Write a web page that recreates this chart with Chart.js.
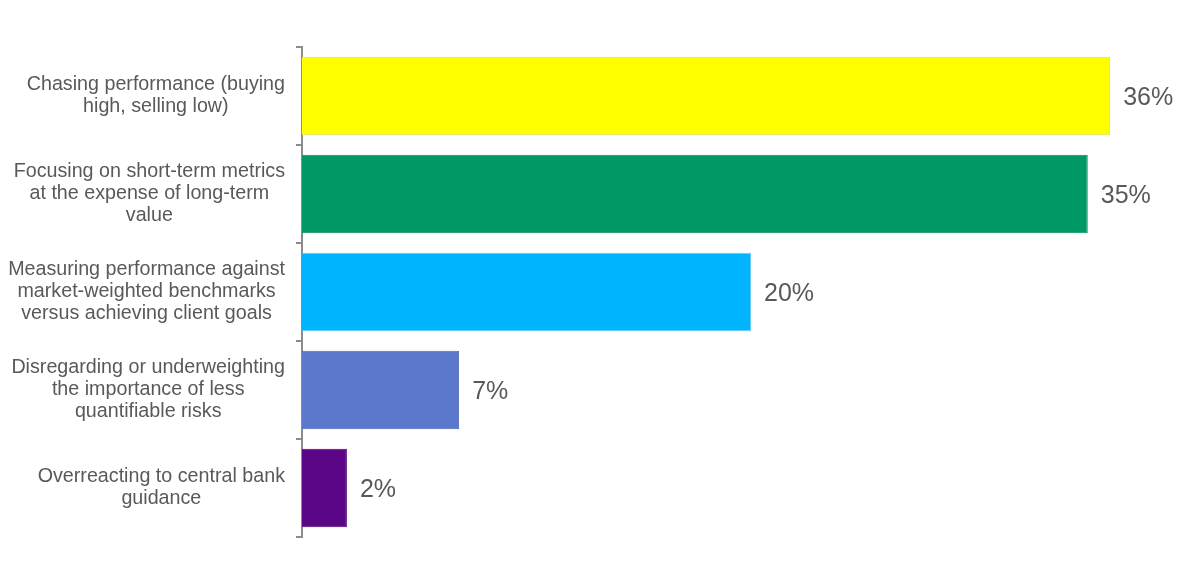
<!DOCTYPE html>
<html>
<head>
<meta charset="utf-8">
<script src="https://cdn.jsdelivr.net/npm/chart.js@4"></script>
<style>
  html, body { margin: 0; padding: 0; background: #ffffff; }
  #wrap { width: 1200px; height: 576px; }
</style>
</head>
<body>
<div id="wrap"><canvas id="barsChart" width="1200" height="576"></canvas></div>
<script>
const CATEGORIES = [
    ["Chasing performance (buying", "high, selling low)"],
    ["Focusing on short-term metrics", "at the expense of long-term", "value"],
    ["Measuring performance against", "market-weighted benchmarks", "versus achieving client goals"],
    ["Disregarding or underweighting", "the importance of less", "quantifiable risks"],
    ["Overreacting to central bank", "guidance"]
];
const PERCENTS = [36, 35, 20, 7, 2];
const BAR_COLORS = ["#ffff00", "#009966", "#00b4ff", "#5b78cc", "#5b0687"];
const BAR_BORDERS = ["#d8e070", "#008a5c", "#66ccff", "#4a66c0", "#4c0470"];

const TEXT_GREY = "#595959";
const FONT_FAMILY = "'Liberation Sans', Arial, sans-serif";

// multi-line category labels, each line centred inside its own block
const categoryLabels = {
    id: "categoryLabels",
    afterDraw(chart) {
        const ctx = chart.ctx;
        const yScale = chart.scales.y;
        const lineHeight = 22;
        const rightEdge = 285;
        ctx.save();
        ctx.font = "19.7px " + FONT_FAMILY;
        ctx.fillStyle = TEXT_GREY;
        ctx.textAlign = "center";
        ctx.textBaseline = "middle";
        CATEGORIES.forEach(function (lines, i) {
            const y = yScale.getPixelForTick(i);
            const blockWidth = Math.max.apply(null, lines.map(l => ctx.measureText(l).width));
            const x = rightEdge - blockWidth / 2;
            const top = y - (lines.length - 1) * lineHeight / 2;
            lines.forEach(function (line, j) {
                ctx.fillText(line, x, top + j * lineHeight);
            });
        });
        ctx.restore();
    }
};

// value labels at the end of each bar
const valueLabels = {
    id: "valueLabels",
    afterDatasetsDraw(chart) {
        const ctx = chart.ctx;
        const meta = chart.getDatasetMeta(0);
        ctx.save();
        ctx.font = "25px " + FONT_FAMILY;
        ctx.fillStyle = TEXT_GREY;
        ctx.textAlign = "left";
        ctx.textBaseline = "middle";
        meta.data.forEach(function (bar, i) {
            ctx.fillText(PERCENTS[i] + "%", bar.x + 13, bar.y + 2);
        });
        ctx.restore();
    }
};

function getConfigChart() {
    return {
        type: "bar",
        data: {
            labels: CATEGORIES,
            datasets: [{
                data: PERCENTS,
                backgroundColor: BAR_COLORS,
                borderColor: BAR_BORDERS,
                borderWidth: 1,
                borderSkipped: "left",
                barPercentage: 0.8,
                categoryPercentage: 1.0
            }]
        },
        options: {
            indexAxis: "y",
            responsive: false,
            animation: false,
            layout: { padding: { top: 47, bottom: 39, left: 0, right: 0 } },
            scales: {
                x: {
                    display: false,
                    min: 0,
                    max: 40
                },
                y: {
                    grid: {
                        offset: true,
                        drawOnChartArea: false,
                        drawTicks: true,
                        tickLength: 6,
                        color: "#8c8c8c",
                        lineWidth: 2
                    },
                    border: { display: true, color: "#8c8c8c", width: 2 },
                    ticks: { display: false },
                    afterFit: function (scale) { scale.width = 302; }
                }
            },
            plugins: {
                legend: { display: false },
                tooltip: { enabled: false }
            }
        },
        plugins: [categoryLabels, valueLabels]
    };
}

function loadChart(config) {
    const ctx = document.getElementById("barsChart").getContext("2d");
    return new Chart(ctx, config);
}

loadChart(getConfigChart());
</script>
</body>
</html>
